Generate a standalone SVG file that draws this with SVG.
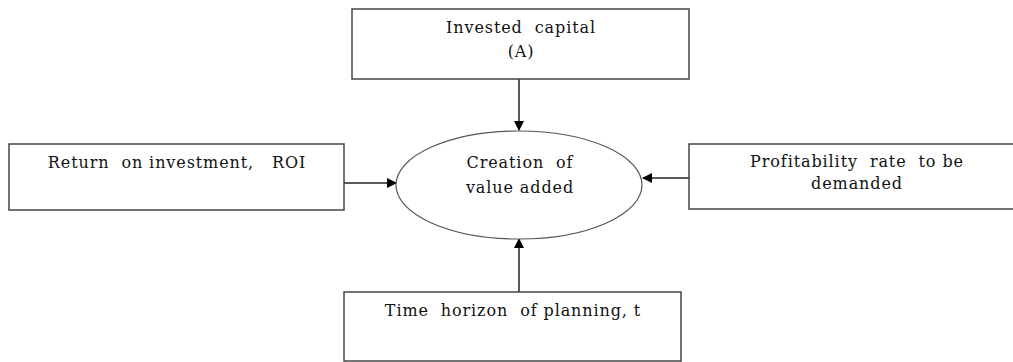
<svg xmlns="http://www.w3.org/2000/svg" width="1013" height="362" viewBox="0 0 1013 362">
<defs>
<marker id="ah" markerWidth="10" markerHeight="10" refX="9" refY="5" orient="auto" markerUnits="userSpaceOnUse">
<path d="M0,0 L10,5 L0,10 Z" fill="#000"/>
</marker>
<style>
.box{fill:#fff;stroke:#444;stroke-width:1.5}
.ell{fill:#fff;stroke:#555;stroke-width:1.2}
.t{font-family:"DejaVu Serif","Liberation Serif",serif;font-size:16px;letter-spacing:0.9px;fill:#111;text-anchor:middle;white-space:pre}
.c{stroke:#222;stroke-width:1.5;fill:none;marker-end:url(#ah)}
</style>
</defs>
<rect width="1013" height="362" fill="#fff"/>
<g id="connectors">
<line class="c" x1="519" y1="79" x2="519" y2="130"/>
<line class="c" x1="344" y1="183" x2="396" y2="183"/>
<line class="c" x1="689" y1="178" x2="643" y2="178"/>
<line class="c" x1="519" y1="292" x2="519" y2="239"/>
</g>
<g id="invested">
<rect class="box" x="352" y="9" width="337" height="70"/>
<text class="t" x="521" y="33">Invested  capital</text>
<text class="t" x="521" y="57">(A)</text>
</g>
<g id="roi">
<rect class="box" x="9" y="144" width="335" height="66"/>
<text class="t" x="177" y="168">Return  on investment,   ROI</text>
</g>
<g id="value">
<ellipse class="ell" cx="519" cy="185" rx="123" ry="54"/>
<text class="t" x="520" y="168">Creation  of</text>
<text class="t" x="520" y="193">value added</text>
</g>
<g id="profit">
<rect class="box" x="689" y="144" width="330" height="65"/>
<text class="t" x="857" y="167">Profitability  rate  to be</text>
<text class="t" x="857" y="189">demanded</text>
</g>
<g id="time">
<rect class="box" x="344" y="292" width="337" height="69"/>
<text class="t" x="513" y="316">Time  horizon  of planning, t</text>
</g>
</svg>
